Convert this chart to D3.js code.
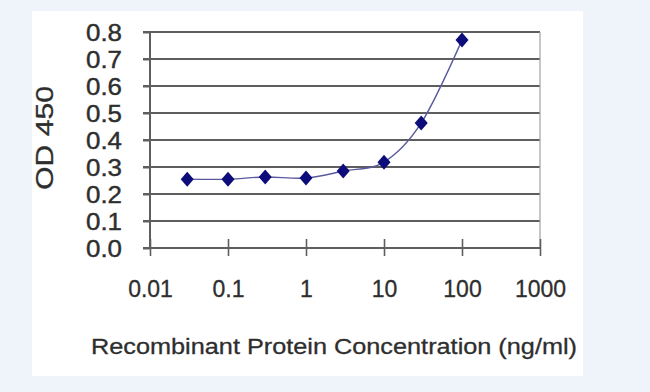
<!DOCTYPE html>
<html>
<head>
<meta charset="utf-8">
<script src="https://cdn.jsdelivr.net/npm/d3@7"></script>
<style>
  html, body { margin: 0; padding: 0; background: #eef4fa; }
  svg { display: block; font-family: "Liberation Sans", Arial, sans-serif; }
</style>
</head>
<body>
<svg id="chart" width="650" height="392"></svg>
<script>
// concentration (ng/ml) and OD 450 readings
const conc = [0.03, 0.1, 0.3, 1, 3, 10, 30, 100];
const od = [0.255, 0.255, 0.263, 0.259, 0.285, 0.318, 0.463, 0.77];
const xTicks = [0.01, 0.1, 1, 10, 100, 1000];
const yTicks = [0, 0.1, 0.2, 0.3, 0.4, 0.5, 0.6, 0.7, 0.8];

const svg = d3.select('#chart');
const textColor = '#2e2e2e';

// white card behind the chart
svg.append('rect')
  .attr('x', 32).attr('y', 11)
  .attr('width', 551).attr('height', 365)
  .attr('fill', '#ffffff');

const x = d3.scaleLog().domain([0.01, 1000]).range([150, 540]);
const y = d3.scaleLinear().domain([0, 0.8]).range([248, 32]);

const gridColor = '#5e5e5e';

// horizontal grid lines
svg.append('g')
  .selectAll('line')
  .data(yTicks.slice(1))
  .join('line')
  .attr('x1', 143).attr('x2', x.range()[1])
  .attr('y1', d => y(d)).attr('y2', d => y(d))
  .attr('stroke', gridColor)
  .attr('stroke-width', 2);

// right border of plot area
svg.append('line')
  .attr('x1', x.range()[1]).attr('x2', x.range()[1])
  .attr('y1', y(0.8)).attr('y2', y(0))
  .attr('stroke', '#a0a0a0').attr('stroke-width', 1.2);

// y axis
const yAxis = d3.axisLeft(y)
  .tickValues(yTicks)
  .tickFormat(d3.format('.1f'))
  .tickSize(7)
  .tickPadding(21);

const gy = svg.append('g')
  .attr('transform', `translate(${x.range()[0]},0)`)
  .call(yAxis);
gy.select('.domain').attr('stroke', gridColor).attr('stroke-width', 2).attr('d', `M0,${y(0.8)}V${y(0)}`);
gy.selectAll('.tick line').attr('stroke', gridColor).attr('stroke-width', 2);
gy.selectAll('.tick text')
  .attr('fill', textColor)
  .attr('stroke', textColor)
  .attr('stroke-width', 0.4)
  .attr('font-size', 23)
  .attr('textLength', 36)
  .attr('lengthAdjust', 'spacingAndGlyphs')
  .attr('dy', '0.36em');

// x axis
const xAxis = d3.axisBottom(x)
  .tickValues(xTicks)
  .tickFormat(d => String(d))
  .tickSize(8)
  .tickPadding(25);

const gx = svg.append('g')
  .attr('transform', `translate(0,${y(0)})`)
  .call(xAxis);
gx.select('.domain').attr('stroke', gridColor).attr('stroke-width', 2).attr('d', `M${x.range()[0] - 7},0H${x.range()[1]}`);
gx.selectAll('.tick line')
  .attr('stroke', gridColor).attr('stroke-width', 1.6)
  .attr('y1', -9).attr('y2', 8);
gx.selectAll('.tick text')
  .attr('fill', textColor)
  .attr('stroke', textColor)
  .attr('stroke-width', 0.3)
  .attr('font-size', 23);

// axis titles
svg.append('text')
  .attr('x', 334).attr('y', 354)
  .attr('text-anchor', 'middle')
  .attr('font-size', 22)
  .attr('fill', textColor)
  .attr('stroke', textColor)
  .attr('stroke-width', 0.3)
  .attr('textLength', 486)
  .attr('lengthAdjust', 'spacingAndGlyphs')
  .text('Recombinant Protein Concentration (ng/ml)');

svg.append('text')
  .attr('transform', 'translate(53,138) rotate(-90)')
  .attr('text-anchor', 'middle')
  .attr('font-size', 23)
  .attr('fill', textColor)
  .attr('stroke', textColor)
  .attr('stroke-width', 0.3)
  .attr('textLength', 104)
  .attr('lengthAdjust', 'spacingAndGlyphs')
  .text('OD 450');

// smoothed series line
const pts = conc.map((c, i) => [x(c), y(od[i])]);
svg.append('path')
  .datum(pts)
  .attr('fill', 'none')
  .attr('stroke', '#5a5a9e')
  .attr('stroke-width', 1.4)
  .attr('d', d3.line().curve(d3.curveCatmullRom.alpha(0)));

// diamond markers
svg.append('g')
  .selectAll('path')
  .data(pts)
  .join('path')
  .attr('transform', d => `translate(${d[0]},${d[1]})`)
  .attr('d', 'M0,-7.5L6.5,0L0,7.5L-6.5,0Z')
  .attr('fill', '#0c0c7a');
</script>
</body>
</html>
